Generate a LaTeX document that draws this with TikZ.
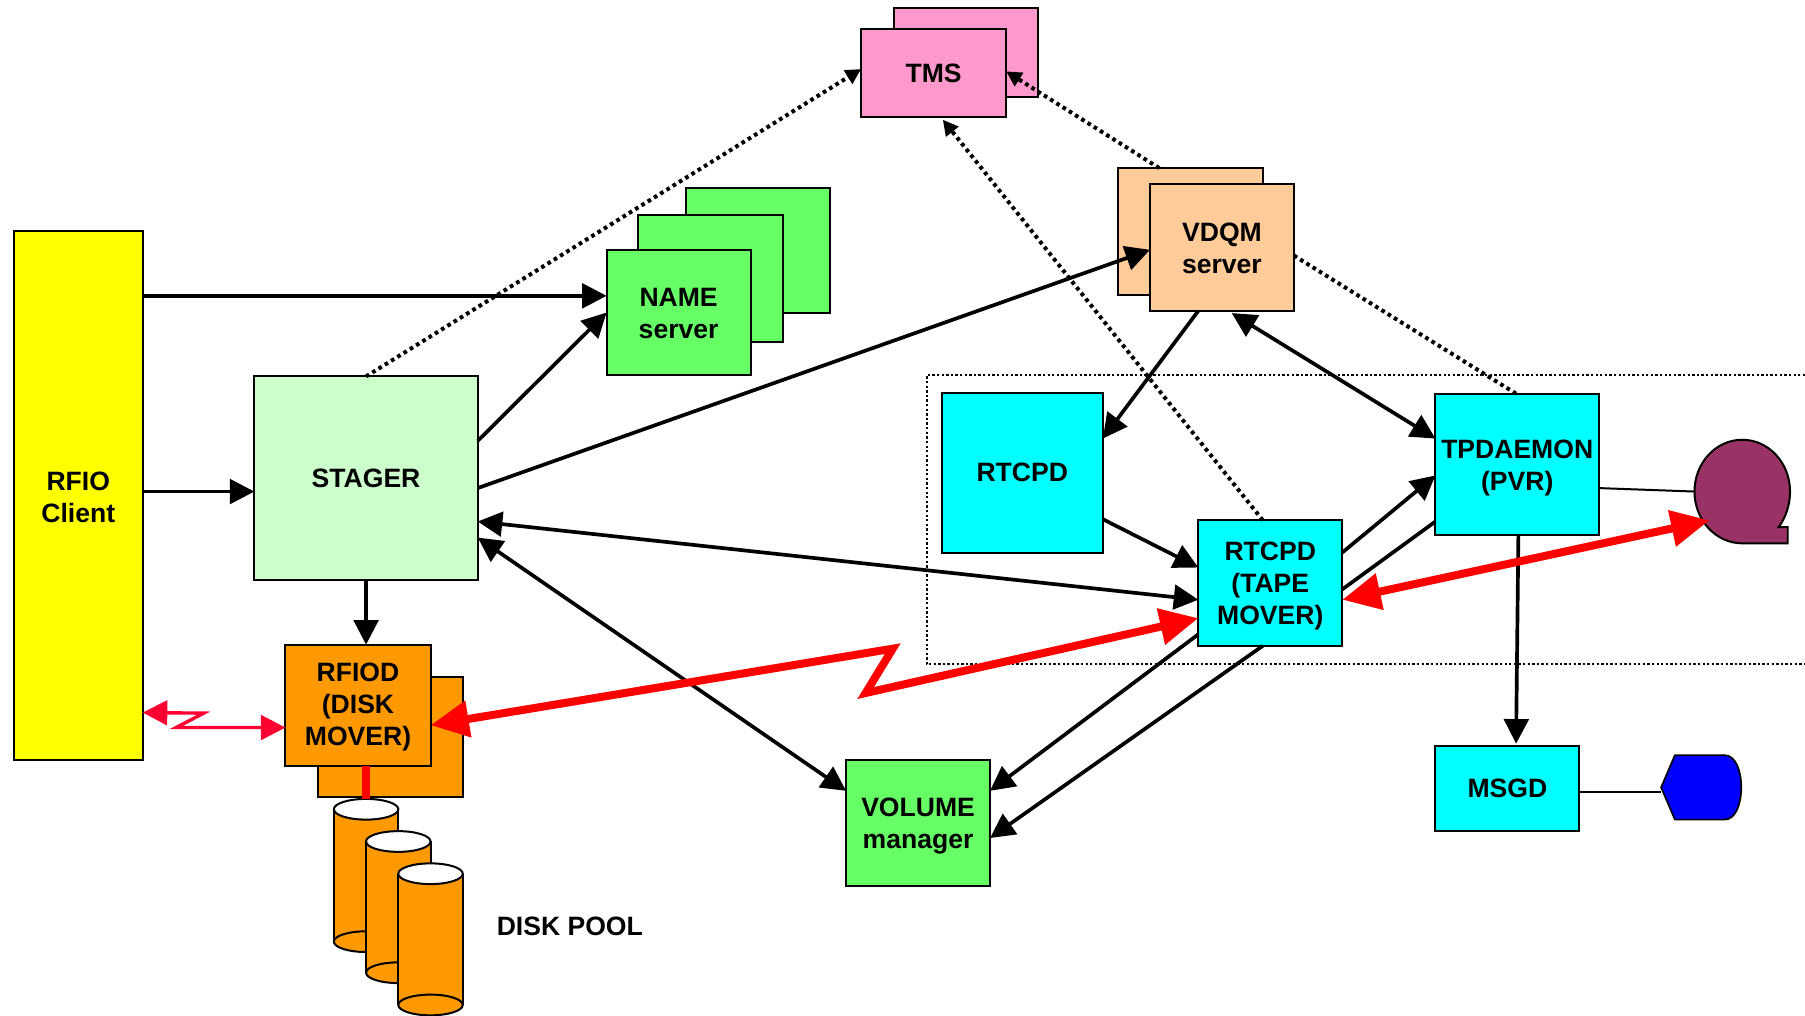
\documentclass[tikz,border=0pt]{standalone}
\usepackage{fontspec}
\setmainfont{Liberation Sans}
\usetikzlibrary{arrows.meta,shapes.geometric}
\definecolor{cYellow}{HTML}{FFFF00}
\definecolor{cStager}{HTML}{CCFFCC}
\definecolor{cGreen}{HTML}{66FF66}
\definecolor{cPink}{HTML}{FF99CC}
\definecolor{cPeach}{HTML}{FFCC99}
\definecolor{cCyan}{HTML}{00FFFF}
\definecolor{cOrange}{HTML}{FF9900}
\definecolor{cMaroon}{HTML}{993366}
\definecolor{cBlue}{HTML}{0000FF}
\definecolor{cRed}{HTML}{FF0000}
\definecolor{cCrimson}{HTML}{FF0033}
\newcommand{\dn}[1]{\rule{0pt}{\dimexpr 11.7pt+#1pt*3/2\relax}}
\tikzset{
  box/.style={draw=black,line width=1.3pt,rectangle,inner sep=0pt,outer sep=0pt,align=center,
    font=\fontsize{17.3}{21}\selectfont\bfseries},
  sz/.style n args={2}{minimum width=#1*.75pt,minimum height=#2*.75pt},
  conn/.style={draw=black,line width=2.4pt},
  head/.style={-{Triangle[length=16pt,width=16pt]}},
  heads/.style={{Triangle[length=16pt,width=16pt]}-{Triangle[length=16pt,width=16pt]}},
  dots/.style={draw=black,line width=2.6pt,dash pattern=on 2.4pt off 2.4pt},
  dothead/.style={-{Triangle[length=10pt,width=10pt]}},
  redconn/.style={draw=cRed,line width=5.2pt,miter limit=10,
    {Triangle[length=25pt,width=23pt]}-{Triangle[length=25pt,width=23pt]}},
  thin conn/.style={draw=black,line width=1.3pt},
  zapconn/.style={draw=cCrimson,line width=2.2pt,miter limit=10,
    {Triangle[length=16pt,width=16pt]}-{Triangle[length=16pt,width=16pt]}},
  cylend/.style={ellipse,draw=black,line width=1.3pt,inner sep=0pt,outer sep=0pt,
    minimum width=42pt,minimum height=13.5pt},
}
\begin{document}
\begin{tikzpicture}[x=.75pt,y=-.75pt]
\useasboundingbox (0,0) rectangle (1568,882);
% dotted frame, open to the right
\draw[black,line width=1.3pt,dash pattern=on 1.5pt off 1.5pt] (1568,326) -- (805,326) -- (805,577) -- (1568,577);

% cylinders
\foreach \n/\cx/\ty/\by in {a/318/703/818,b/346/731/845,c/374/759/873}{
  \fill[cOrange] (\cx-28,\ty) rectangle (\cx+28,\by);
  \node[cylend,fill=cOrange] (bot\n) at (\cx,\by) {};
  \draw[black,line width=1.3pt] (\cx-28,\ty) -- (\cx-28,\by) (\cx+28,\ty) -- (\cx+28,\by);
  \node[cylend,fill=white] (top\n) at (\cx,\ty) {};
}

% boxes
\node[box,fill=cYellow,sz={112}{459}] (rfio) at (68,430.5) {\dn{2}RFIO\\Client};
\node[box,fill=cStager,sz={194}{177}] (stager) at (318,415.5) {STAGER};
\node[box,fill=cGreen,sz={125}{109}] (nameB) at (658.5,217.5) {};
\node[box,fill=cGreen,sz={126}{110}] (nameM) at (617,242) {};
\node[box,fill=cGreen,sz={125}{109}] (name) at (589.5,271.5) {\dn{1}NAME\\server};
\node[box,fill=cPink,sz={125}{77}] (tmsB) at (839.5,45.5) {};
\node[box,fill=cPink,sz={126}{77}] (tms) at (811,63.5) {TMS};
\node[box,fill=cPeach,sz={126}{110}] (vdqmB) at (1034,201) {};
\node[box,fill=cPeach,sz={125}{110}] (vdqm) at (1061.5,215) {\dn{1}VDQM\\server};
\node[box,fill=cCyan,sz={140}{139}] (rtcpd) at (888,410.5) {RTCPD};
\node[box,fill=cCyan,sz={125}{109}] (mover) at (1103.5,506.5) {\dn{3}RTCPD\\(TAPE\\MOVER)};
\node[box,fill=cCyan,sz={142}{123}] (tpd) at (1318,403.5) {\dn{3}TPDAEMON\\(PVR)};
\node[box,fill=cCyan,sz={125}{74}] (msgd) at (1309.5,685) {MSGD};
\node[box,fill=cGreen,sz={125}{110}] (volume) at (797.5,715) {\dn{3}VOLUME\\manager};
\node[box,fill=cOrange,sz={126}{104}] (rfiodB) at (339,640) {};
\node[box,fill=cOrange,sz={126}{105}] (rfiod) at (311,612.5) {\dn{2}RFIOD\\(DISK\\MOVER)};
\node[font=\fontsize{17.3}{21}\selectfont\bfseries,inner sep=0pt] (pool) at (495,805) {DISK POOL};

% tape drive and console symbols
\draw[fill=cMaroon,draw=black,line width=1.3pt]
  (1513.5,472) .. controls (1490.6,472) and (1472,451.9) .. (1472,427)
  .. controls (1472,402.1) and (1490.6,382) .. (1513.5,382)
  .. controls (1536.4,382) and (1555,402.1) .. (1555,427)
  .. controls (1555,439) and (1551,450) .. (1545,458)
  -- (1553,458) -- (1553,472) -- cycle;
\coordinate (tapeW) at (1472,427);
\coordinate (tapeT) at (1485,452);
\draw[fill=cBlue,draw=black,line width=1.1pt]
  (1443,684) -- (1455,656) -- (1498,656)
  .. controls (1508,656) and (1512.6,670) .. (1512.6,684)
  .. controls (1512.6,698) and (1508,712) .. (1498,712)
  -- (1455,712) -- cycle;
\coordinate (dispW) at (1443,688);

% zigzag bend points
\coordinate (z1) at (775.5,563.5);
\coordinate (z2) at (752,602);
\coordinate (y1) at (177,619.5);
\coordinate (y2) at (153,632);

% dotted connectors
\draw[dots,dothead] (stager.north) -- ([yshift=3.5*.75pt]tms.west);
\draw[dots,dothead] ([xshift=-27*.75pt]vdqmB.north) -- ([yshift=1.5*.75pt]tms.east);
\draw[dots,dothead] ([xshift=-6.5*.75pt]mover.north) -- ([xshift=8*.75pt,yshift=-1.5pt]tms.south);
\draw[dots] ([yshift=-7*.75pt]vdqm.east) -- ([xshift=-1*.75pt]tpd.north);

% black connectors
\draw[conn,head] ([yshift=173.5*.75pt]rfio.east) -- ([yshift=14.5*.75pt]name.west);
\draw[conn,head] ([yshift=3.5*.75pt]rfio.east) -- ([yshift=11.5*-.75pt]stager.west);
\draw[conn,head] (stager.south) -- ([xshift=7*.75pt]rfiod.north);
\draw[conn,head] ([yshift=32.5*.75pt]stager.east) -- (name.west);
\draw[conn,head] ([yshift=-8.5*.75pt]stager.east) -- ([yshift=-2*.75pt]vdqm.west);
\draw[conn,heads] ([yshift=-37.5*.75pt]stager.east) -- ([yshift=-14.5*.75pt]mover.west);
\draw[conn,heads] ([yshift=-51.5*.75pt]stager.east) -- ([yshift=28*.75pt]volume.west);
\draw[conn,head] ([xshift=-20.5*.75pt]vdqm.south) -- ([yshift=29.5*.75pt]rtcpd.east);
\draw[conn,heads] ([xshift=8.5*.75pt,yshift=-1.5pt]vdqm.south) -- ([yshift=22.5*.75pt]tpd.west);
\draw[conn,head] ([yshift=-40.5*.75pt]rtcpd.east) -- ([yshift=13.5*.75pt]mover.west);
\draw[conn,head] ([yshift=26.5*.75pt]mover.east) -- ([yshift=-9.5*.75pt]tpd.west);
\draw[conn] ([yshift=-49.5*.75pt]tpd.west) -- ([yshift=-5.5*.75pt]mover.east);
\draw[conn,head] ([yshift=-44.5*.75pt]mover.west) -- ([yshift=28*.75pt]volume.east);
\draw[conn,head] ([xshift=-6.5*.75pt]mover.south) -- ([yshift=-13*.75pt]volume.east);
\draw[conn,head] ([xshift=1*.75pt]tpd.south) -- ([xshift=7.5*.75pt,yshift=1.5pt]msgd.north);
\draw[thin conn] ([yshift=-20.5*.75pt]tpd.east) -- (tapeW);
\draw[thin conn] ([yshift=-3*.75pt]msgd.east) -- (dispW);

% red connectors
\draw[redconn] ([yshift=-17.5*.75pt]rfiod.east) -- (z1) -- (z2) -- ([yshift=-30.5*.75pt]mover.west);
\draw[redconn] ([yshift=-14.5*.75pt]mover.east) -- (tapeT);
\draw[draw=cRed,line width=5pt] ([xshift=7*.75pt]rfiod.south) -- (topa.north);
\draw[zapconn] ([yshift=-188.5*.75pt]rfio.east) -- (y1) -- (y2) -- ([yshift=-19.5*.75pt]rfiod.west);
\end{tikzpicture}
\end{document}
